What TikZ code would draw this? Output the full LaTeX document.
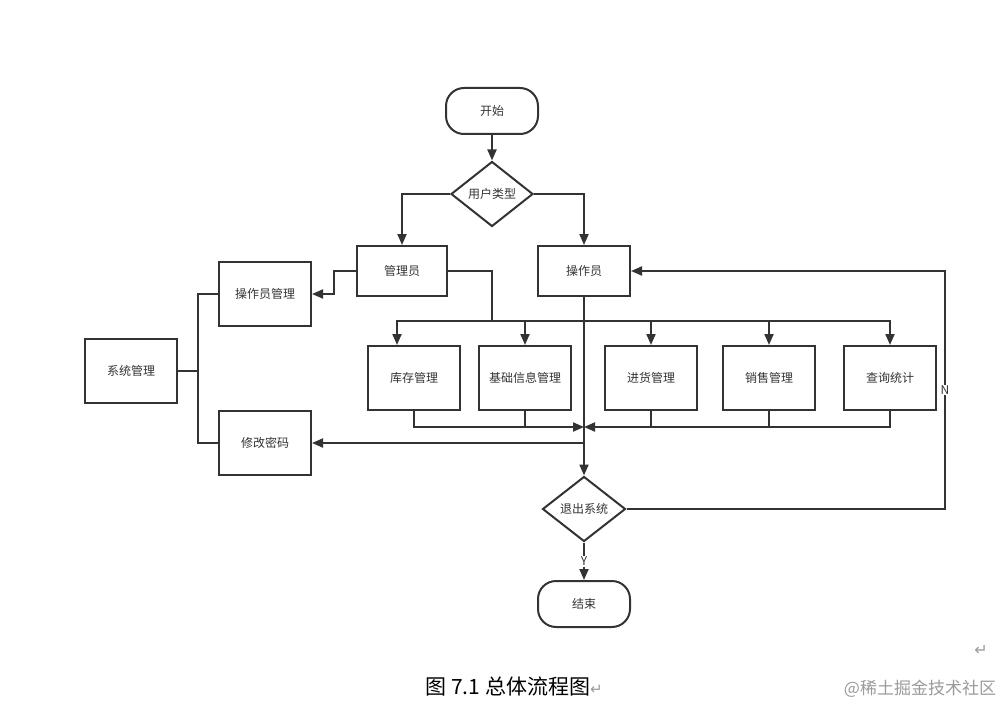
\documentclass[tikz,border=0pt]{standalone}
\usepackage{fontspec}
\setmainfont{Noto Sans CJK SC}
\newfontfamily\symfont{DejaVu Sans}
\usetikzlibrary{shapes.geometric,arrows.meta}
\definecolor{ink}{HTML}{333333}
\definecolor{mark}{HTML}{9A9A9A}
\begin{document}
\begin{tikzpicture}[x=1pt,y=-1pt,
    every node/.style={font=\fontsize{12}{14}\selectfont,text=ink},
    box/.style={draw=ink,line width=2pt,minimum width=92pt,minimum height=64pt,inner sep=2pt},
    small/.style={box,minimum height=50pt},
    term/.style={box,minimum height=46pt,rounded corners=18pt},
    choice/.style={draw=ink,line width=2pt,diamond,minimum width=82pt,minimum height=65pt,inner sep=1pt},
    lbl/.style={fill=white,inner sep=1pt,font=\fontsize{12}{13}\selectfont},
    flow/.style={draw=ink,line width=2pt,-{Triangle[length=11pt,width=9pt]}},
    link/.style={draw=ink,line width=2pt}]
  \useasboundingbox (0,0) rectangle (1007,706);
  \draw
    (492,111) node[term] (start){开始}
    (492,194) node[choice] (type){用户类型}
    (402,271) node[small,minimum width=90pt] (admin){管理员}
    (584,271) node[small,minimum width=92pt] (oper){操作员}
    (265,294) node[box] (opmgr){操作员管理}
    (131,371) node[box] (sys){系统管理}
    (265,443) node[box] (pwd){修改密码}
    (414,378) node[box] (kc){库存管理}
    (525,378) node[box] (jc){基础信息管理}
    (651,378) node[box] (jh){进货管理}
    (769,378) node[box] (xs){销售管理}
    (890,378) node[box] (cx){查询统计}
    (584,509) node[choice,minimum width=83pt] (quit){退出系统}
    (584,604) node[term] (end){结束};
  \coordinate (a1) at (334,271);
  \coordinate (b1) at (198,371);
  \coordinate (bus) at (492,321);
  \coordinate (m1) at (584,427);
  \coordinate (n1) at (584,443);
  \coordinate (r1) at (945,509);
  \begin{scope}[flow]
    \draw (start) -- (type);
    \draw (type.west) -| (admin);
    \draw (type.east) -| (oper);
    \draw (admin.west) -- (a1) |- (opmgr);
    \draw (bus) -| ([xshift=-17pt]kc.north);
    \draw (bus) -| (jc);
    \draw (bus) -| (jh);
    \draw (bus) -| (xs);
    \draw (bus) -| (cx);
    \draw (oper) -- (quit);
    \draw (kc) |- (m1);
    \draw (cx) |- (m1);
    \draw (n1) -- (pwd);
    \draw (quit) -- (r1) |- node[lbl,pos=0.25]{N} (oper);
    \draw (quit) -- node[lbl]{Y} (end);
  \end{scope}
  \begin{scope}[link]
    \draw (admin.east) -| (bus);
    \draw (sys) -- (b1);
    \draw (opmgr.west) -| (b1) |- (pwd.west);
    \draw (jc.south) -- (jc.south |- m1);
    \draw (jh.south) -- (jh.south |- m1);
    \draw (xs.south) -- (xs.south |- m1);
  \end{scope}
  \node[anchor=west,text=black,font=\fontsize{21}{24}\selectfont] (cap) at (422,687)
    {图 7.1 总体流程图\textcolor{mark}{\symfont\fontsize{15}{16}\selectfont ↵}};
  \node[text=mark,font=\fontsize{17}{20}\selectfont] (wm) at (920,689) {@稀土掘金技术社区};
  \node[text=mark,font=\symfont\fontsize{16}{17}\selectfont] (ret) at (981,650) {↵};
\end{tikzpicture}
\end{document}
